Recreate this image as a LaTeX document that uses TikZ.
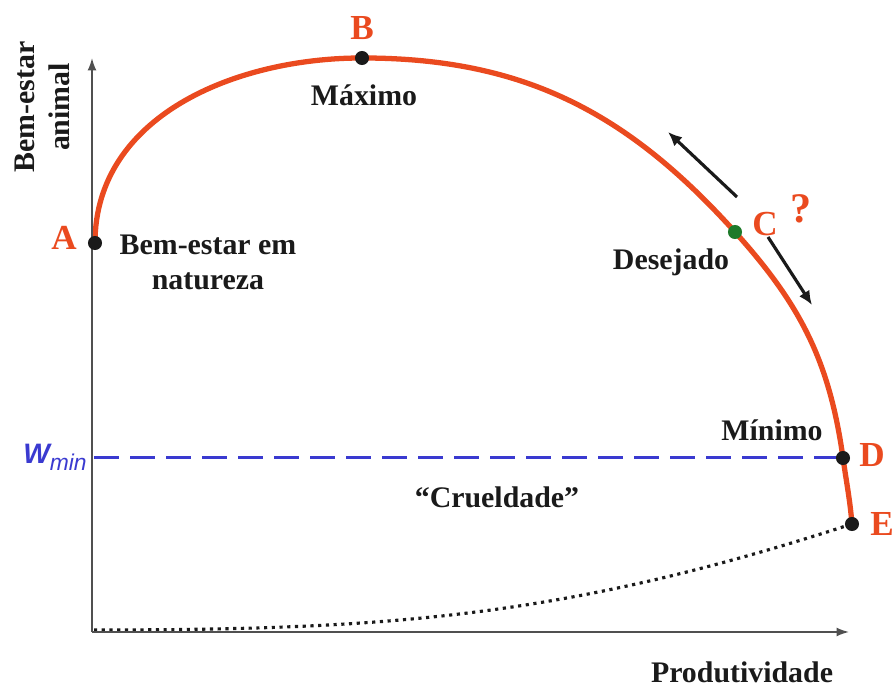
\documentclass[tikz,border=0pt]{standalone}
\usepackage{fontspec}
\setmainfont{Liberation Serif}
\newfontfamily\arialfont{Liberation Sans}
\usetikzlibrary{arrows.meta, backgrounds}
\definecolor{cred}{HTML}{EA4A1F}
\definecolor{cblue}{HTML}{3A3AD0}
\definecolor{cgreen}{HTML}{1E7A2A}
\definecolor{cbk}{HTML}{1A1A1A}
\definecolor{caxis}{HTML}{505050}

\begin{document}
\begin{tikzpicture}[x=0.02cm, y=0.02cm,
    dot/.style={circle, fill=cbk, minimum size=8pt, inner sep=0pt},
    letter/.style={font=\fontsize{20}{24}\selectfont\bfseries, text=cred, inner sep=0pt},
    lbl/.style={font=\fontsize{17}{20}\selectfont\bfseries, text=cbk, inner sep=0pt, align=center},
    axlbl/.style={font=\fontsize{17}{20}\selectfont\bfseries, text=cbk, inner sep=0pt, align=center}]
    \useasboundingbox (0,0) rectangle (896,688);
    % axes
    \coordinate (o) at (92,56);
    \coordinate (ytip) at (92,630);
    \coordinate (xtip) at (849,56);
    \draw[caxis, line width=0.9pt, -{Latex[length=7pt, width=5pt]}] (o) -- (ytip);
    \draw[caxis, line width=0.9pt, -{Latex[length=7pt, width=5pt]}] (o) -- (xtip);
    \node[axlbl, rotate=90] (ylab) at (42,581) {Bem-estar\\animal};
    \node[axlbl] (xlab) at (742,16) {Produtividade};
    % points on the curve
    \node (A) [dot] at (95,445) {};
    \node (B) [dot] at (362,630) {};
    \node (C) [dot, fill=cgreen] at (735,456) {};
    \node (D) [dot] at (843,230) {};
    \node (E) [dot] at (852,164) {};
    \begin{scope}[on background layer]
        \draw[cred, line width=3pt] (A.center) to[out=90, in=180] (B.center)
            to[out=0, in=132] (C.center) to[out=-48, in=98] (D.center)
            to[out=-82, in=95] (E.center);
        \coordinate (wmin) at (94,230);
        \draw[cblue, line width=1.7pt, dash pattern=on 14pt off 6.5pt] (wmin) -- (D.center);
        \coordinate (o2) at (94,58);
        \draw[cbk, line width=1.8pt, dash pattern=on 1.8pt off 2.6pt] (o2) to[out=0, in=198] (E.center);
    \end{scope}
    % letters
    \node[letter] (lA) at (64,450) {A};
    \node[letter] (lB) at (362,660) {B};
    \node[letter] (lC) at (765,464) {C};
    \node[letter, font=\fontsize{24}{28}\selectfont\bfseries] (lq) at (801,479) {?};
    \node[letter] (lD) at (872,233) {D};
    \node[letter] (lE) at (882,164) {E};
    % texts
    \node[lbl] (tA) at (208,426) {Bem-estar em\\natureza};
    \node[lbl] (tB) at (364,593) {Máximo};
    \node[lbl] (tC) at (671,426) {Desejado};
    \node[lbl] (tD) at (772,258) {Mínimo};
    \node[lbl] (tcr) at (497,191) {``Crueldade''};
    \node[inner sep=0pt, text=cblue] (tw) at (55,231)
        {\arialfont\fontsize{16}{18}\selectfont\bfseries\itshape W\raisebox{-4pt}{\fontsize{13}{15}\selectfont\mdseries min}};
    % directions around C
    \coordinate (c1) at (737,491);
    \coordinate (c2) at (668,556);
    \coordinate (c3) at (768,451);
    \coordinate (c4) at (812,383);
    \draw[cbk, line width=1.8pt, -{Latex[length=8pt, width=7pt]}] (c1) -- (c2);
    \draw[cbk, line width=1.8pt, -{Latex[length=8pt, width=7pt]}] (c3) -- (c4);
\end{tikzpicture}
\end{document}
